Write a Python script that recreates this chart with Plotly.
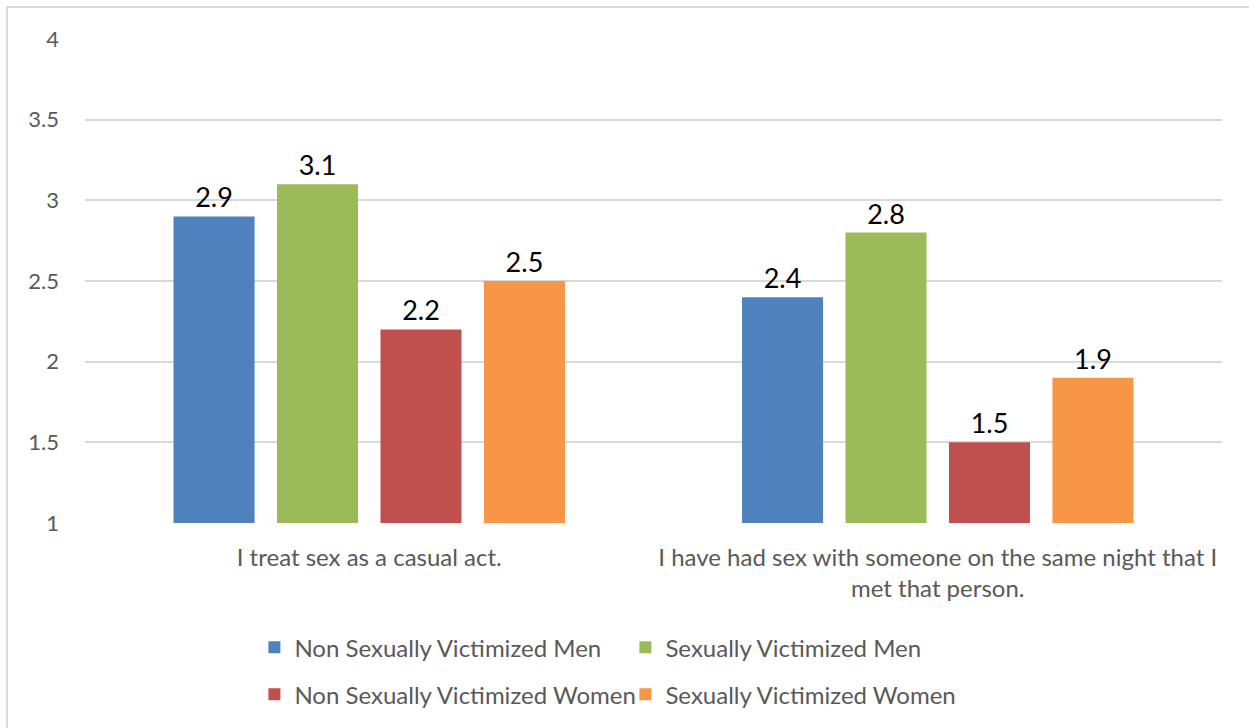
import plotly.graph_objects as go

categories = [
    "I treat sex as a casual act.",
    "I have had sex with someone on the same night that I<br>met that person.",
]
series_names = [
    "Non Sexually Victimized Men",
    "Sexually Victimized Men",
    "Non Sexually Victimized Women",
    "Sexually Victimized Women",
]
series_values = [
    [2.9, 2.4],
    [3.1, 2.8],
    [2.2, 1.5],
    [2.5, 1.9],
]
series_colors = ["#4f81bd", "#9bbb59", "#c0504d", "#f79646"]
legend_ids = ["legend", "legend", "legend2", "legend2"]
y_ticks = [1, 1.5, 2, 2.5, 3, 3.5, 4]

FONT = "Lato"
GRAY = "#595959"

fig = go.Figure()
for name, vals, color, lg in zip(series_names, series_values, series_colors, legend_ids):
    fig.add_trace(go.Bar(
        name=name,
        x=categories,
        y=vals,
        base=0,
        marker=dict(color=color, line=dict(width=0)),
        text=[f"{v:.1f}" for v in vals],
        textposition="outside",
        textfont=dict(family=FONT, size=27, color="#000000"),
        constraintext="none",
        cliponaxis=False,
        legend=lg,
    ))

legend_common = dict(
    orientation="h",
    x=0.149, xanchor="left",
    yanchor="middle",
    font=dict(family=FONT, size=24, color=GRAY),
    entrywidth=326, entrywidthmode="pixels",
    itemwidth=30,
    bgcolor="rgba(0,0,0,0)",
)

fig.update_layout(
    width=1249,
    height=728,
    margin=dict(l=85, r=27, t=39, b=204),
    paper_bgcolor="white",
    plot_bgcolor="white",
    barmode="group",
    bargap=0.272,
    bargroupgap=0.217,
    font=dict(family=FONT, color=GRAY),
    xaxis=dict(
        showgrid=False,
        showline=False,
        ticks="",
        tickfont=dict(family=FONT, size=24, color=GRAY),
        ticklabelstandoff=18,
    ),
    yaxis=dict(
        range=[1, 4],
        tickvals=y_ticks,
        ticktext=[f"{t:g}" for t in y_ticks],
        showgrid=True,
        gridcolor="#d9d9d9",
        gridwidth=1.5,
        zeroline=False,
        showline=False,
        tickfont=dict(family=FONT, size=22, color=GRAY),
        ticklabelstandoff=25,
    ),
    legend=dict(legend_common, y=-0.255),
    legend2=dict(legend_common, y=-0.352),
    shapes=[dict(
        type="rect", xref="paper", yref="paper",
        x0=-0.0686, x1=1.1, y0=-0.6, y1=1.066,
        line=dict(color="#d9d9d9", width=2),
        fillcolor="rgba(0,0,0,0)",
        layer="below",
    )],
)

fig.write_html("out.html")
